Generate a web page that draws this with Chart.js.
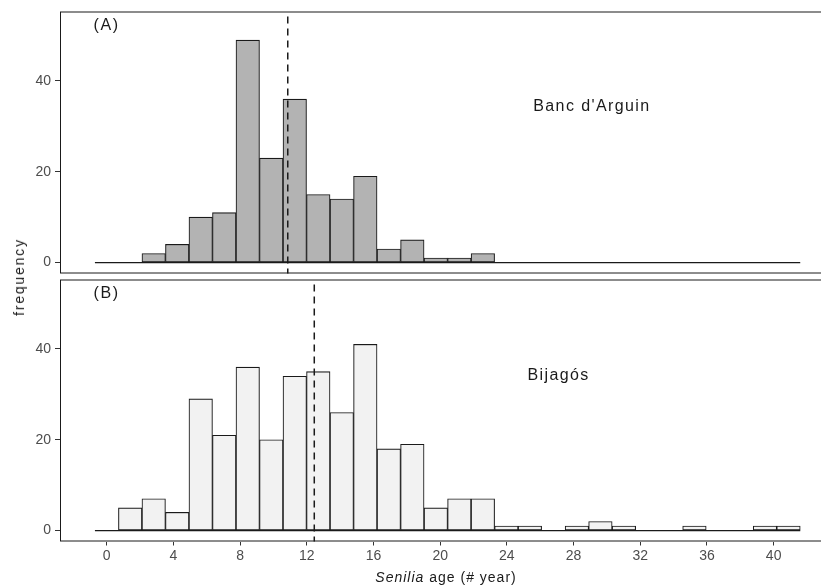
<!DOCTYPE html>
<html lang="en">
<head>
    <meta charset="UTF-8">
    <title>Senilia age frequency</title>
    <script src="https://cdn.jsdelivr.net/npm/chart.js"></script>
    <style>
        body {
            margin: 0;
            background: #fff;
            overflow: hidden;
            font-family: 'Liberation Sans', Arial, sans-serif;
        }
        .wrap {
            position: relative;
            width: 821px;
            height: 586px;
            overflow: hidden;
        }
        canvas {
            position: absolute;
            left: 0;
        }
        #panelA { top: 0; }
        #panelB { top: 279px; }
        .ytitle {
            position: absolute;
            left: 19px;
            top: 277px;
            transform: translate(-50%, -50%) rotate(-90deg);
            font-size: 14px;
            letter-spacing: 1.8px;
            color: #1a1a1a;
            white-space: nowrap;
        }
        .xtitle {
            position: absolute;
            left: 446px;
            top: 577px;
            transform: translate(-50%, -50%);
            font-size: 14px;
            letter-spacing: 1px;
            color: #1a1a1a;
            white-space: nowrap;
        }
    </style>
</head>
<body>
    <div class="wrap">
        <canvas id="panelA" width="837" height="274"></canvas>
        <canvas id="panelB" width="837" height="307"></canvas>
        <div class="ytitle">frequency</div>
        <div class="xtitle"><i>Senilia</i> age (# year)</div>
    </div>

    <script>
        // histogram bins (centre of each bin, years)
        const binCenters = [0, 1.41, 2.82, 4.23, 5.64, 7.05, 8.46, 9.87, 11.28, 12.69,
            14.1, 15.51, 16.92, 18.33, 19.74, 21.15, 22.56, 23.97, 25.38, 26.79,
            28.2, 29.61, 31.02, 32.43, 33.84, 35.25, 36.66, 38.07, 39.48, 40.89];
        const countsArguin = [0, 0, 2, 4, 10, 11, 49, 23, 36, 15, 14, 19, 3, 5, 1,
            1, 2, 0, 0, 0, 0, 0, 0, 0, 0, 0, 0, 0, 0, 0];
        const countsBijagos = [0, 5, 7, 4, 29, 21, 36, 20, 34, 35, 26, 41, 18, 19, 5,
            7, 7, 1, 1, 0, 1, 2, 1, 0, 0, 1, 0, 0, 1, 1];
        const meanAge = [10.86, 12.45];
        const panelTags = ['(A)', '(B)'];
        const siteNames = ["Banc d'Arguin", 'Bijagós'];
        const xTicks = [0, 4, 8, 12, 16, 20, 24, 28, 32, 36, 40];
        const yTicks = [0, 20, 40];

        const ink = '#1a1a1a';
        const tickFont = { family: "'Liberation Sans', Arial, sans-serif", size: 14 };

        // box, mean line and text labels for one panel
        const decor = {
            id: 'decor',
            afterDatasetsDraw(chart, args, opts) {
                const ctx = chart.ctx;
                const a = chart.chartArea;
                const x = chart.scales.x, y = chart.scales.y;
                ctx.save();
                ctx.strokeStyle = ink;
                ctx.lineWidth = 1;
                ctx.strokeRect(a.left + 0.5, a.top + 0.5, a.right - a.left, a.bottom - a.top - 1);

                const mx = x.getPixelForValue(opts.mean);
                ctx.setLineDash([7, 5]);
                ctx.lineDashOffset = -5;
                ctx.lineWidth = 1.5;
                ctx.beginPath();
                ctx.moveTo(mx, a.top);
                ctx.lineTo(mx, a.bottom);
                ctx.stroke();
                ctx.setLineDash([]);

                ctx.fillStyle = ink;
                ctx.textAlign = 'center';
                ctx.textBaseline = 'middle';
                ctx.font = "16px 'Liberation Sans', Arial, sans-serif";
                ctx.letterSpacing = '1.6px';
                ctx.fillText(opts.tag, x.getPixelForValue(opts.tagAt[0]), y.getPixelForValue(opts.tagAt[1]));
                ctx.letterSpacing = '1.4px';
                ctx.fillText(opts.site, x.getPixelForValue(opts.siteAt[0]), y.getPixelForValue(opts.siteAt[1]));
                ctx.restore();
            }
        };

        function makePanel(id, counts, fill, idx, showX) {
            const half = (binCenters[1] - binCenters[0]) / 2;
            const ctx = document.getElementById(id).getContext('2d');
            return new Chart(ctx, {
                type: 'bar',
                data: {
                    datasets: [{
                        type: 'line',
                        data: [
                            { x: binCenters[0] - half, y: 0 },
                            { x: binCenters[binCenters.length - 1] + half, y: 0 }
                        ],
                        borderColor: ink,
                        borderWidth: 1.2,
                        pointRadius: 0
                    }, {
                        data: binCenters.map((c, i) => ({ x: c, y: counts[i] })),
                        backgroundColor: fill,
                        borderColor: ink,
                        borderWidth: 1.1,
                        borderSkipped: false,
                        barPercentage: 1,
                        categoryPercentage: 1
                    }]
                },
                options: {
                    responsive: false,
                    animation: false,
                    layout: { padding: { top: showX ? 0.5 : 11.5, bottom: showX ? 0 : 0.5, left: 0, right: 0 } },
                    plugins: {
                        legend: { display: false },
                        tooltip: { enabled: false },
                        decor: {
                            mean: meanAge[idx],
                            tag: panelTags[idx],
                            site: siteNames[idx],
                            tagAt: [0, 52.2],
                            siteAt: idx === 0 ? [29.1, 34.4] : [27.1, 34.1]
                        }
                    },
                    scales: {
                        x: {
                            type: 'linear',
                            display: showX,
                            offset: false,
                            min: -2.8,
                            max: 43.8,
                            afterBuildTicks: s => { s.ticks = xTicks.map(v => ({ value: v })); },
                            afterFit: s => {
                                if (showX) s.height = 44.5;
                                s.paddingLeft = 0;
                                s.paddingRight = 0;
                            },
                            grid: { offset: false, drawOnChartArea: false, tickLength: 4, color: '#333' },
                            border: { display: false },
                            ticks: { color: '#4d4d4d', font: tickFont, padding: 2, maxRotation: 0 }
                        },
                        y: {
                            min: -2.4,
                            max: 55.3,
                            afterBuildTicks: s => { s.ticks = yTicks.map(v => ({ value: v })); },
                            afterFit: s => {
                                s.width = 60;
                                s.paddingTop = 0;
                                s.paddingBottom = 0;
                            },
                            grid: { drawOnChartArea: false, tickLength: 5, color: '#333' },
                            border: { display: false },
                            ticks: { color: '#4d4d4d', font: tickFont, padding: 4 }
                        }
                    }
                },
                plugins: [decor]
            });
        }

        makePanel('panelA', countsArguin, '#b3b3b3', 0, false);
        makePanel('panelB', countsBijagos, '#f2f2f2', 1, true);
    </script>
</body>
</html>
